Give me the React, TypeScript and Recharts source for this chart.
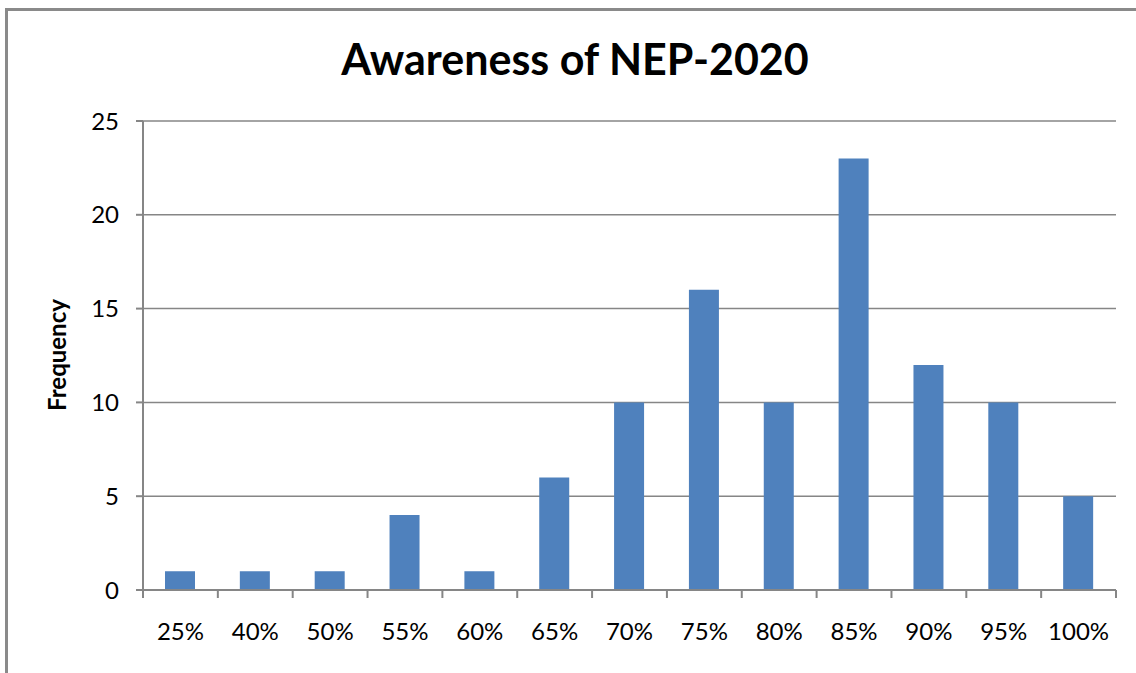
import React from 'react'
import { BarChart, Bar, XAxis, YAxis, CartesianGrid } from 'recharts'

const categories = ['25%', '40%', '50%', '55%', '60%', '65%', '70%', '75%', '80%', '85%', '90%', '95%', '100%']
const frequency = [1, 1, 1, 4, 1, 6, 10, 16, 10, 23, 12, 10, 5]
const yTicks = [0, 5, 10, 15, 20, 25]

const data = categories.map((c, i) => ({ name: c, frequency: frequency[i] }))

const W = 1136
const H = 673
const xAxisHeight = 60
const margin = { top: 121, right: 20, bottom: 83 - xAxisHeight, left: 0 }
const yAxisWidth = 143
const band = (W - margin.left - margin.right - yAxisWidth) / categories.length
const axisColor = '#868686'
const font = 'Lato, "Open Sans", sans-serif'

const XTick = (props: any) => {
  const { x, y, payload, index } = props
  const last = index === categories.length - 1
  return (
    <g>
      <line x1={x - band / 2} y1={y - 8} x2={x - band / 2} y2={y} stroke={axisColor} strokeWidth={2} />
      {last && <line x1={x + band / 2} y1={y - 8} x2={x + band / 2} y2={y} stroke={axisColor} strokeWidth={2} />}
      <text x={x} y={y + 42} textAnchor="middle" fontSize={24} fontFamily={font} fill="#000">
        {payload.value}
      </text>
    </g>
  )
}

const App: React.FC = () => {
  return (
    <div style={{ position: 'fixed', left: 0, top: 0, width: W, height: H, overflow: 'hidden', background: '#fff' }}>
      <div
        style={{
          position: 'absolute',
          left: 5,
          top: 8,
          width: W + 20,
          height: H + 20,
          border: '3px solid #8a8a8a',
          boxSizing: 'border-box',
        }}
      />
      <div
        style={{
          position: 'absolute',
          left: 12,
          top: 33,
          width: W - 10,
          textAlign: 'center',
          fontFamily: font,
          fontWeight: 'bold',
          fontSize: 43,
          color: '#000',
        }}
      >
        Awareness of NEP-2020
      </div>
      <div style={{ position: 'absolute', left: 0, top: 0 }}>
        <BarChart width={W} height={H} data={data} margin={margin}>
          <CartesianGrid vertical={false} stroke={axisColor} strokeWidth={1.5} />
          <XAxis
            dataKey="name"
            height={xAxisHeight}
            tickLine={false}
            axisLine={{ stroke: axisColor, strokeWidth: 2 }}
            tick={<XTick />}
            interval={0}
          />
          <YAxis
            width={yAxisWidth}
            domain={[0, 25]}
            ticks={yTicks}
            tickSize={7}
            tickMargin={17}
            tickLine={{ stroke: axisColor, strokeWidth: 2 }}
            axisLine={{ stroke: axisColor, strokeWidth: 2 }}
            tick={{ fontSize: 24, fontFamily: font, fill: '#000' }}
            label={() => (
              <text
                x={66}
                y={355}
                transform="rotate(-90, 66, 355)"
                textAnchor="middle"
                fontSize={24}
                fontWeight="bold"
                fontFamily={font}
                fill="#000"
              >
                Frequency
              </text>
            )}
          />
          <Bar dataKey="frequency" fill="#4F81BD" barSize={30} isAnimationActive={false} />
        </BarChart>
      </div>
    </div>
  )
}

export default App
